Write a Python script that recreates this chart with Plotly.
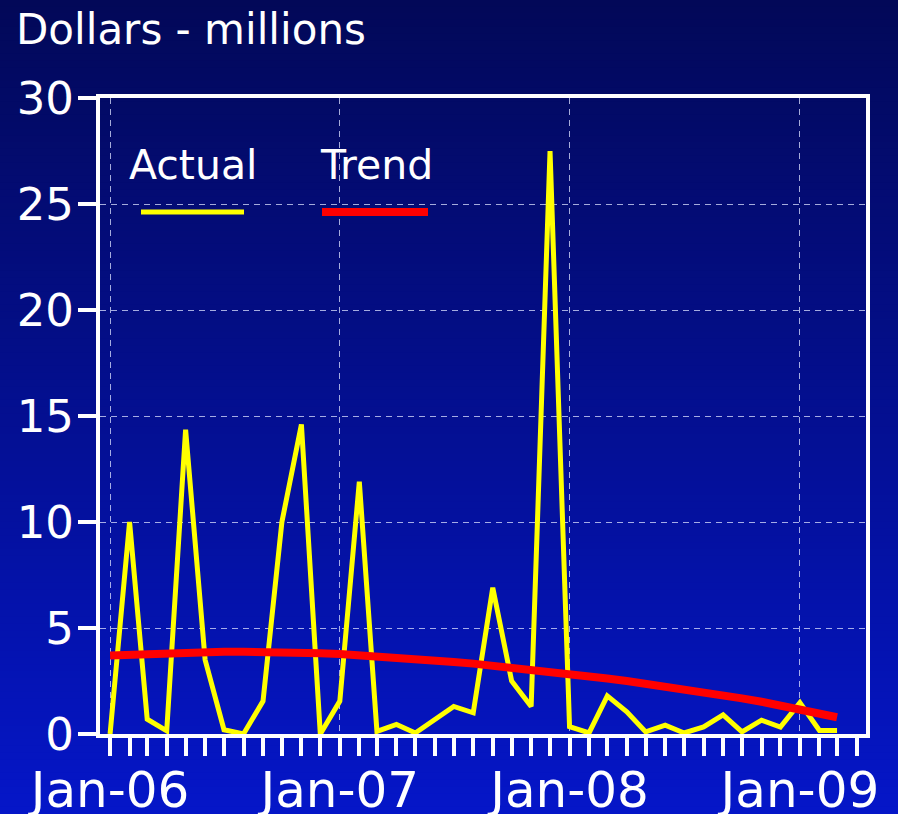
import plotly.graph_objects as go
import pandas as pd

# ---- data ----
months = pd.date_range("2006-01-01", periods=39, freq="MS")
actual = [0.0, 10.0, 0.7, 0.15, 14.35, 3.5, 0.2, 0.0, 1.55, 10.0,
          14.6, 0.0, 1.55, 11.9, 0.12, 0.45, 0.05, 0.7, 1.3, 1.0,
          6.9, 2.5, 1.3, 27.5, 0.35, 0.05, 1.8, 1.05, 0.1, 0.42,
          0.05, 0.33, 0.9, 0.1, 0.65, 0.33, 1.48, 0.17, 0.17]
trend = [3.70, 3.74, 3.78, 3.81, 3.84, 3.86, 3.88, 3.88, 3.88, 3.87,
         3.85, 3.81, 3.77, 3.72, 3.67, 3.61, 3.55, 3.48, 3.40, 3.32,
         3.23, 3.14, 3.05, 2.95, 2.84, 2.73, 2.62, 2.50, 2.38, 2.25,
         2.12, 1.99, 1.84, 1.68, 1.52, 1.35, 1.17, 0.98, 0.79]
y_ticks = [0, 5, 10, 15, 20, 25, 30]
series_names = ["Actual", "Trend"]
y_title = "Dollars - millions"

W, H = 898, 814
L, R, T, B = 100, 32, 98, 80
PW, PH = W - L - R, H - T - B

def px_x(p):
    return (p - L) / PW

def px_y(p):
    return (H - B - p) / PH

FONT = "DejaVu Sans"
fig = go.Figure()

fig.add_trace(go.Scatter(x=months, y=actual, mode="lines", name=series_names[0],
                         line=dict(color="#ffff00", width=5), showlegend=False))
fig.add_trace(go.Scatter(x=months, y=trend, mode="lines", name=series_names[1],
                         line=dict(color="#ff0000", width=8), showlegend=False))

# gradient background strips
shapes = []
N = 120
top = (2, 8, 88)
bot = (5, 22, 200)
for i in range(N):
    t = (i + 0.5) / N
    c = tuple(round(top[k] + (bot[k] - top[k]) * t) for k in range(3))
    y0p = i * H / N
    y1p = (i + 1) * H / N + 1
    shapes.append(dict(type="rect", xref="paper", yref="paper", layer="below",
                       x0=px_x(-5), x1=px_x(W + 5), y0=px_y(y1p), y1=px_y(y0p - 0.5),
                       fillcolor="rgb(%d,%d,%d)" % c, line=dict(width=0)))

# custom legend lines
shapes.append(dict(type="line", xref="paper", yref="paper", layer="above",
                   x0=px_x(141), x1=px_x(244), y0=px_y(212), y1=px_y(212),
                   line=dict(color="#ffff00", width=5)))
shapes.append(dict(type="line", xref="paper", yref="paper", layer="above",
                   x0=px_x(322), x1=px_x(428), y0=px_y(212), y1=px_y(212),
                   line=dict(color="#ff0000", width=8)))

annotations = [
    dict(text=y_title, xref="paper", yref="paper", x=px_x(14), y=px_y(29),
         xanchor="left", yanchor="middle", showarrow=False,
         font=dict(family=FONT, size=42, color="white")),
    dict(text=series_names[0], xref="paper", yref="paper", x=px_x(193), y=px_y(165),
         xanchor="center", yanchor="middle", showarrow=False,
         font=dict(family=FONT, size=41, color="white")),
    dict(text=series_names[1], xref="paper", yref="paper", x=px_x(376), y=px_y(165),
         xanchor="center", yanchor="middle", showarrow=False,
         font=dict(family=FONT, size=41, color="white")),
]

grid_col = "rgba(220,225,255,0.75)"
fig.update_layout(
    width=W, height=H,
    margin=dict(l=L, r=R, t=T, b=B, pad=0, autoexpand=False),
    paper_bgcolor="#030b70",
    plot_bgcolor="rgba(0,0,0,0)",
    shapes=shapes,
    annotations=annotations,
    showlegend=False,
    xaxis=dict(
        type="date", automargin=False,
        range=["2005-12-16", "2009-04-16"],
        tick0="2006-01-01", dtick="M12", tickformat="%b-%y",
        ticks="outside", ticklen=18, tickwidth=4, tickcolor="white",
        showline=True, linecolor="white", linewidth=4, mirror=True,
        showgrid=True, gridcolor=grid_col, gridwidth=1, griddash="6px,5px",
        zeroline=False,
        tickfont=dict(family=FONT, size=50, color="white"),
        ticklabelstandoff=-9,
        minor=dict(dtick="M1", tick0="2006-01-01", ticks="outside", ticklen=18,
                   tickwidth=4, tickcolor="white", showgrid=False),
    ),
    yaxis=dict(
        range=[0, 30], tickvals=y_ticks, automargin=False,
        ticks="outside", ticklen=18, tickwidth=4, tickcolor="white",
        showline=True, linecolor="white", linewidth=4, mirror=True,
        showgrid=True, gridcolor=grid_col, gridwidth=1, griddash="6px,5px",
        zeroline=False,
        tickfont=dict(family=FONT, size=45, color="white"),
        ticklabelstandoff=-5,
    ),
)

fig.write_html("out.html", config={"displayModeBar": False},
               post_script="document.body.style.margin='0';document.body.style.overflow='hidden';")
